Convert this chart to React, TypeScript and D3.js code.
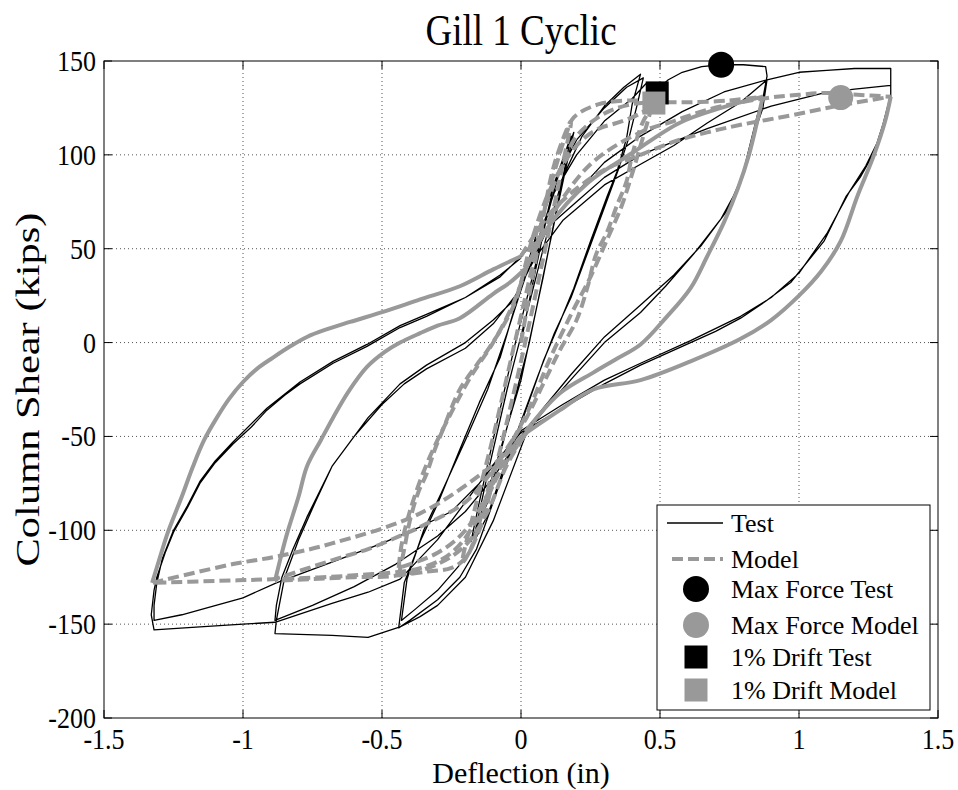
import * as d3 from "d3";

type Pt = [number, number];

const W = 958;
const H = 790;
const margin = { left: 104, right: 20, top: 61, bottom: 72 };

const xTicks = [-1.5, -1, -0.5, 0, 0.5, 1, 1.5];
const yTicks = [-200, -150, -100, -50, 0, 50, 100, 150];
const xTickLabels = ["-1.5", "-1", "-0.5", "0", "0.5", "1", "1.5"];
const yTickLabels = ["-200", "-150", "-100", "-50", "0", "50", "100", "150"];

// ---- Test (black) : small cycles +/-0.19 in
const testSmall: Pt[] = [
  [0, 0], [0.04, 30], [0.09, 65], [0.14, 92], [0.19, 112],
  [0.16, 92], [0.1, 50], [0.03, 0], [-0.05, -45], [-0.12, -85], [-0.18, -106],
  [-0.15, -85], [-0.09, -45], [-0.02, 0], [0.05, 40], [0.12, 85], [0.18, 110],
  [0.14, 80], [0.08, 35], [0, -20], [-0.08, -60], [-0.17, -104],
  [-0.12, -70], [-0.05, -25],
];

// ---- Test : +/-0.44 in
const test044: Pt[] = [
  [0.02, 15], [0.08, 50], [0.15, 88], [0.22, 110], [0.3, 126], [0.37, 136], [0.43, 143],
  [0.4, 127], [0.38, 109], [0.345, 91], [0.31, 78], [0.25, 54], [0.19, 29], [0.14, 11], [0.08, -10], [0.02, -35],
  [-0.04, -60], [-0.1, -85], [-0.16, -110], [-0.22, -125], [-0.3, -137], [-0.4, -148], [-0.44, -152],
  [-0.42, -128], [-0.36, -105], [-0.3, -86], [-0.22, -57], [-0.15, -32], [-0.075, -8], [-0.01, 25],
  [0.05, 55], [0.12, 85], [0.2, 108], [0.3, 125], [0.38, 136], [0.44, 141],
  [0.42, 128], [0.39, 110], [0.35, 92], [0.3, 72], [0.24, 48], [0.18, 24], [0.12, 5], [0.06, -18], [0, -42],
  [-0.06, -66], [-0.12, -92], [-0.2, -115], [-0.3, -132], [-0.38, -142], [-0.43, -148],
  [-0.41, -126], [-0.35, -100], [-0.28, -78], [-0.2, -52], [-0.12, -25], [-0.05, 5], [0, 28],
];

// ---- Test : +/-0.88 in
const test088: Pt[] = [
  [0.05, 50], [0.12, 80], [0.2, 100], [0.3, 118], [0.4, 130], [0.45, 138], [0.5, 136],
  [0.53, 140], [0.58, 144], [0.65, 147], [0.72, 148], [0.8, 148], [0.88, 147], [0.885, 142],
  [0.87, 130], [0.85, 121], [0.82, 103], [0.79, 85], [0.72, 66], [0.62, 47], [0.52, 30], [0.43, 16],
  [0.3, 0], [0.19, -18], [0.1, -33], [0.02, -48],
  [-0.1, -95], [-0.2, -125], [-0.3, -140], [-0.363, -146], [-0.435, -151.5], [-0.55, -157], [-0.68, -156], [-0.885, -155],
  [-0.88, -148], [-0.85, -125], [-0.8, -105], [-0.74, -85], [-0.68, -66], [-0.6, -50], [-0.5, -33],
  [-0.42, -22], [-0.34, -14], [-0.2, -3], [-0.1, 10], [-0.02, 25], [0.05, 45],
  [0.15, 65], [0.3, 84], [0.43, 95], [0.55, 105], [0.67, 117], [0.79, 128], [0.885, 140],
  [0.87, 125], [0.84, 112], [0.8, 90], [0.74, 70], [0.65, 52], [0.55, 36], [0.43, 20], [0.3, 3],
  [0.18, -17], [0.08, -35], [0, -50],
  [-0.1, -72], [-0.2, -90], [-0.3, -103], [-0.45, -118], [-0.6, -130], [-0.75, -140], [-0.885, -148],
  [-0.88, -140], [-0.86, -125], [-0.82, -110], [-0.77, -93], [-0.68, -66], [-0.55, -40], [-0.435, -22],
  [-0.34, -12], [-0.2, 0], [-0.1, 12], [-0.03, 22], [0.03, 40],
];

// ---- Test : +/-1.32 in
const test132: Pt[] = [
  [0.1, 62], [0.2, 80], [0.3, 96], [0.43, 110], [0.58, 123], [0.73, 133.5], [0.885, 140],
  [1.0, 144], [1.1, 145], [1.2, 146], [1.33, 146],
  [1.33, 132], [1.3, 115], [1.27, 101], [1.22, 88], [1.17, 78], [1.09, 54], [0.97, 32], [0.88, 22],
  [0.79, 13], [0.7, 6], [0.61, 0], [0.52, -6], [0.43, -12], [0.3, -22], [0.15, -35], [0, -48],
  [-0.1, -65], [-0.2, -85], [-0.3, -105], [-0.435, -126], [-0.55, -133], [-0.68, -139], [-0.885, -149],
  [-1.0, -150], [-1.155, -151.5], [-1.32, -153],
  [-1.33, -145], [-1.32, -132], [-1.31, -125], [-1.28, -112], [-1.25, -101], [-1.2, -88], [-1.155, -75],
  [-1.1, -64], [-1.036, -54], [-0.97, -45], [-0.914, -36], [-0.85, -28], [-0.795, -22], [-0.676, -11],
  [-0.554, -2], [-0.435, 8], [-0.34, 14], [-0.2, 24], [-0.075, 35], [0, 46],
  [0.1, 62], [0.2, 75], [0.3, 88], [0.43, 100], [0.55, 107], [0.67, 114], [0.9, 126], [1.09, 133],
  [1.2, 135], [1.33, 137],
  [1.33, 130], [1.31, 120], [1.28, 106], [1.24, 94], [1.18, 80], [1.1, 58], [1.0, 37], [0.9, 24],
  [0.79, 14], [0.61, 1], [0.43, -11], [0.3, -20], [0.15, -33], [0, -47],
  [-0.15, -75], [-0.25, -90], [-0.36, -98], [-0.5, -107], [-0.68, -117], [-0.88, -128], [-1.0, -136],
  [-1.12, -141], [-1.22, -145], [-1.32, -148],
  [-1.32, -140], [-1.31, -128], [-1.29, -115], [-1.25, -100], [-1.2, -87], [-1.155, -74], [-1.1, -63],
  [-1.036, -53], [-0.914, -35], [-0.795, -21], [-0.676, -10], [-0.554, -1], [-0.435, 9], [-0.34, 15],
  [-0.2, 24], [-0.075, 36], [0, 45],
];

// ---- Model (gray) branches
const modelSmall: Pt[] = [
  [0, 0], [0.06, 50], [0.12, 95], [0.18, 118], [0.15, 95], [0.08, 45], [0, -10], [-0.08, -60],
  [-0.15, -100], [-0.21, -117], [-0.16, -85], [-0.1, -50], [-0.03, -5], [0.04, 40], [0.1, 80],
  [0.165, 112], [0.19, 120], [0.28, 127], [0.4, 129], [0.48, 128],
];
const modelUnload044a: Pt[] = [
  [0.48, 128], [0.475, 126], [0.44, 118], [0.4, 100], [0.38, 86], [0.345, 73], [0.31, 59], [0.27, 47],
  [0.24, 30], [0.2, 12], [0.14, -4], [0.08, -22], [0.02, -40], [-0.04, -54], [-0.1, -68], [-0.12, -79],
  [-0.16, -101], [-0.195, -114], [-0.25, -120], [-0.34, -122], [-0.44, -124],
];
const modelReload044: Pt[] = [
  [-0.44, -124], [-0.42, -110], [-0.4, -95], [-0.37, -80], [-0.34, -70], [-0.31, -57], [-0.28, -46],
  [-0.22, -25], [-0.16, -12], [-0.12, -4], [-0.06, 10], [-0.02, 22], [0, 32], [0.04, 55], [0.1, 80],
  [0.165, 98], [0.22, 108], [0.28, 114], [0.345, 117], [0.4, 120], [0.44, 123], [0.47, 126],
];
const modelUnload044b: Pt[] = [
  [0.47, 126], [0.46, 120], [0.43, 105], [0.4, 90], [0.36, 72], [0.31, 55], [0.25, 35], [0.18, 15],
  [0.1, -10], [0.03, -35], [-0.05, -58], [-0.1, -75], [-0.2, -100], [-0.3, -112], [-0.44, -120],
];
const modelReload044b: Pt[] = [
  [-0.44, -120], [-0.43, -108], [-0.4, -90], [-0.34, -65], [-0.26, -40], [-0.18, -18], [-0.1, 0], [-0.03, 20], [0.02, 40],
];
const modelLoad088a: Pt[] = [
  [0.02, 40], [0.08, 70], [0.15, 95], [0.2, 110], [0.3, 122], [0.4, 127], [0.48, 128], [0.6, 128],
  [0.75, 129], [0.87, 131],
];
const modelUnload088a: Pt[] = [
  [0.87, 131], [0.85, 118], [0.82, 100], [0.78, 82], [0.73, 64], [0.67, 46], [0.61, 29], [0.52, 13],
  [0.43, -1], [0.34, -9], [0.26, -16], [0.14, -27], [0.04, -43],
];
const modelLoadNeg088a: Pt[] = [
  [0.04, -43], [-0.05, -65], [-0.12, -90], [-0.2, -108], [-0.3, -118], [-0.44, -124], [-0.6, -125],
  [-0.75, -126], [-0.885, -127],
];
const modelUnloadNeg088: Pt[] = [
  [-0.885, -127], [-0.86, -112], [-0.84, -101], [-0.8, -82], [-0.77, -66], [-0.72, -52], [-0.676, -40],
  [-0.62, -26], [-0.554, -13], [-0.49, -5], [-0.435, 0], [-0.363, 5], [-0.3, 9], [-0.22, 13],
  [-0.1, 26], [-0.04, 32], [0.02, 40],
];
const modelLoad088b: Pt[] = [
  [0.02, 40], [0.1, 62], [0.24, 85], [0.4, 101], [0.57, 117], [0.72, 125], [0.87, 131],
];
const modelLoadNeg088b: Pt[] = [
  [0.04, -43], [-0.1, -68], [-0.2, -85], [-0.36, -98], [-0.435, -103], [-0.55, -110], [-0.68, -116], [-0.885, -126],
];
const modelLoad132a: Pt[] = [
  [0.02, 40], [0.1, 65], [0.25, 95], [0.43, 112], [0.55, 118], [0.67, 124], [0.87, 130], [1.0, 132],
  [1.1, 133], [1.21, 132], [1.33, 131],
];
const modelUnload132: Pt[] = [
  [1.33, 131], [1.31, 118], [1.27, 100], [1.21, 78], [1.15, 54], [1.08, 38], [1.0, 25], [0.9, 12],
  [0.79, 2], [0.61, -10], [0.43, -20], [0.26, -25], [0.14, -36], [0.02, -48],
];
const modelLoadNeg132a: Pt[] = [
  [0.02, -48], [-0.08, -70], [-0.16, -95], [-0.25, -112], [-0.36, -120], [-0.6, -124], [-0.88, -126],
  [-1.1, -127], [-1.327, -128],
];
const modelUnloadNeg132: Pt[] = [
  [-1.327, -128], [-1.3, -115], [-1.27, -101], [-1.22, -82], [-1.18, -66], [-1.14, -52], [-1.094, -40],
  [-1.05, -30], [-1.0, -21], [-0.95, -14], [-0.892, -8], [-0.83, -2], [-0.77, 3], [-0.7, 7],
  [-0.615, 11], [-0.482, 17], [-0.363, 23], [-0.22, 30], [-0.1, 39], [0, 46],
];
const modelLoad132b: Pt[] = [
  [0, 46], [0.1, 68], [0.2, 82], [0.3, 92], [0.43, 100], [0.55, 107], [0.67, 112], [0.79, 116],
  [0.97, 121], [1.1, 125], [1.21, 128], [1.33, 131],
];
const modelLoadNeg132b: Pt[] = [
  [0.02, -48], [-0.1, -65], [-0.363, -91], [-0.68, -107], [-0.88, -114], [-1.036, -118], [-1.327, -128],
];

const modelDashed = [
  modelSmall, modelUnload044a, modelReload044, modelUnload044b, modelReload044b, modelLoad088a,
  modelLoadNeg088a, modelLoadNeg088b, modelLoad132a, modelLoadNeg132a, modelLoad132b, modelLoadNeg132b,
];
const modelSolid = [modelUnload088a, modelUnloadNeg088, modelLoad088b, modelUnload132, modelUnloadNeg132];

// markers
const maxForceTest: Pt = [0.72, 148];
const maxForceModel: Pt = [1.15, 130.5];
const driftTest: Pt = [0.49, 133];
const driftModel: Pt = [0.478, 127.6];

const legendItems = ["Test", "Model", "Max Force Test", "Max Force Model", "1% Drift Test", "1% Drift Model"];

const GRAY = "#999999";
const FONT = "Liberation Serif, Times New Roman, serif";

export default function App() {
  const x = d3.scaleLinear().domain([-1.5, 1.5]).range([margin.left, W - margin.right]);
  const y = d3.scaleLinear().domain([-200, 150]).range([H - margin.bottom, margin.top]);
  const line = d3.line<Pt>().x((d) => x(d[0])).y((d) => y(d[1]));
  const smooth = d3.line<Pt>().x((d) => x(d[0])).y((d) => y(d[1])).curve(d3.curveCatmullRom.alpha(0.5));

  const [x0, x1] = x.range();
  const [y0, y1] = [y(-200), y(150)];
  const testAll = [...testSmall, ...test044, ...test088, ...test132];

  const lx = 657, ly = 505, lw = 273, lh = 205;
  const rowY = [523, 559, 589, 625, 657, 690];
  const markX = 696;

  // MATLAB export made text taller than wide
  const stretch = (tx: number, ty: number, s: number) => `translate(${tx},${ty}) scale(1,${s})`;

  return (
    <svg width={W} height={H} style={{ position: "absolute", left: 0, top: 0, background: "#fff" }} fontFamily={FONT}>
      <rect x={0} y={0} width={W} height={H} fill="#fff" />
      {/* grid */}
      {xTicks.slice(1, -1).map((t) => (
        <line key={"gx" + t} x1={x(t)} x2={x(t)} y1={y0} y2={y1} stroke="#555" strokeWidth={1} strokeDasharray="1,3" />
      ))}
      {yTicks.slice(1, -1).map((t) => (
        <line key={"gy" + t} x1={x0} x2={x1} y1={y(t)} y2={y(t)} stroke="#555" strokeWidth={1} strokeDasharray="1,3" />
      ))}
      {/* ticks */}
      {xTicks.map((t) => (
        <g key={"tx" + t}>
          <line x1={x(t)} x2={x(t)} y1={y0} y2={y0 - 8} stroke="#000" />
          <line x1={x(t)} x2={x(t)} y1={y1} y2={y1 + 8} stroke="#000" />
        </g>
      ))}
      {yTicks.map((t) => (
        <g key={"ty" + t}>
          <line x1={x0} x2={x0 + 8} y1={y(t)} y2={y(t)} stroke="#000" />
          <line x1={x1} x2={x1 - 8} y1={y(t)} y2={y(t)} stroke="#000" />
        </g>
      ))}

      {/* test */}
      <path d={line(testAll) || ""} fill="none" stroke="#000" strokeWidth={1.3} strokeLinejoin="round" />
      {/* model */}
      {modelSolid.map((b, i) => (
        <path key={"ms" + i} d={smooth(b) || ""} fill="none" stroke={GRAY} strokeWidth={4} strokeLinejoin="round" />
      ))}
      {modelDashed.map((b, i) => (
        <path key={"md" + i} d={smooth(b) || ""} fill="none" stroke={GRAY} strokeWidth={4} strokeDasharray="11,5" />
      ))}

      {/* markers */}
      <circle cx={x(maxForceTest[0])} cy={y(maxForceTest[1])} r={13} fill="#000" />
      <circle cx={x(maxForceModel[0])} cy={y(maxForceModel[1])} r={12.5} fill={GRAY} />
      <rect x={x(driftTest[0]) - 11.5} y={y(driftTest[1]) - 11.5} width={23} height={23} fill="#000" />
      <rect x={x(driftModel[0]) - 11.5} y={y(driftModel[1]) - 11.5} width={23} height={23} fill={GRAY} />

      {/* axes box */}
      <rect x={x0} y={y1} width={x1 - x0} height={y0 - y1} fill="none" stroke="#000" strokeWidth={1} />

      {/* tick labels */}
      {xTicks.map((t, i) => (
        <text key={"lx" + t} transform={stretch(x(t), y0 + 31, 1.1)} fontSize={26} textAnchor="middle">{xTickLabels[i]}</text>
      ))}
      {yTicks.map((t, i) => (
        <text key={"ly" + t} transform={stretch(x0 - 8, y(t) + 10, 1.15)} fontSize={26} textAnchor="end">{yTickLabels[i]}</text>
      ))}

      {/* titles */}
      <text transform={stretch((x0 + x1) / 2, 45, 1.2)} fontSize={37} textAnchor="middle">Gill 1 Cyclic</text>
      <text x={(x0 + x1) / 2} y={783} fontSize={30} textAnchor="middle">Deflection (in)</text>
      <text transform={`translate(39,${(y0 + y1) / 2}) rotate(-90) scale(1.25,1)`} fontSize={34} textAnchor="middle">Column Shear (kips)</text>

      {/* legend */}
      <rect x={lx} y={ly} width={lw} height={lh} fill="#fff" stroke="#000" strokeWidth={1} />
      <line x1={667} x2={723} y1={rowY[0]} y2={rowY[0]} stroke="#000" strokeWidth={1.3} />
      <line x1={672} x2={723} y1={rowY[1]} y2={rowY[1]} stroke={GRAY} strokeWidth={4} strokeDasharray="11,5" />
      <circle cx={markX} cy={rowY[2]} r={13} fill="#000" />
      <circle cx={markX} cy={rowY[3]} r={13} fill={GRAY} />
      <rect x={markX - 11.5} y={rowY[4] - 11.5} width={23} height={23} fill="#000" />
      <rect x={markX - 11.5} y={rowY[5] - 11.5} width={23} height={23} fill={GRAY} />
      {legendItems.map((s, i) => (
        <text key={s} x={731} y={rowY[i] + 9} fontSize={26}>{s}</text>
      ))}
    </svg>
  );
}
